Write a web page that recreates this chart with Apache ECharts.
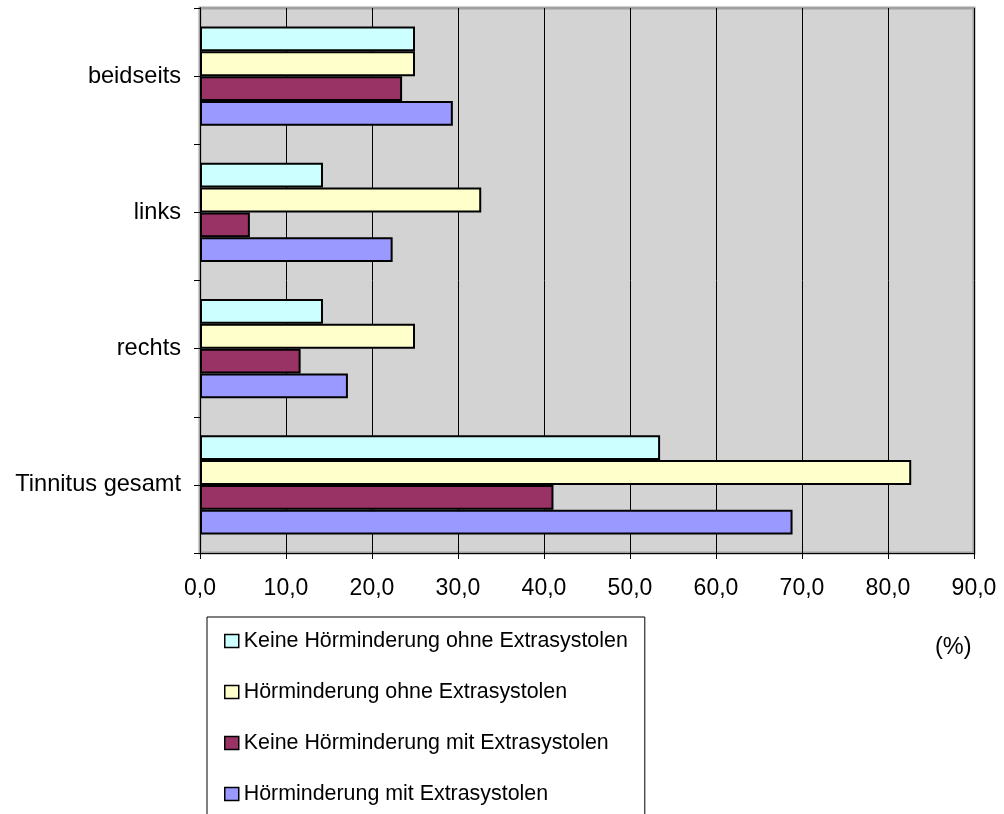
<!DOCTYPE html>
<html>
<head>
<meta charset="utf-8">
<script src="https://cdn.jsdelivr.net/npm/echarts@6/dist/echarts.min.js"></script>
<style>
  html, body { margin: 0; padding: 0; background: #fff; }
  #chart { width: 1004px; height: 814px; }
</style>
</head>
<body>
<div id="chart"></div>
<script>
// Kategorien von oben nach unten
var categories = ['beidseits', 'links', 'rechts', 'Tinnitus gesamt'];
var seriesNames = [
  'Keine Hörminderung ohne Extrasystolen',
  'Hörminderung ohne Extrasystolen',
  'Keine Hörminderung mit Extrasystolen',
  'Hörminderung mit Extrasystolen'
];
var keineOhne = [25.0, 14.3, 14.3, 53.5];
var hoerOhne = [25.0, 32.7, 25.0, 82.7];
var keineMit = [23.5, 5.8, 11.7, 41.1];
var hoerMit = [29.4, 22.4, 17.2, 68.9];
var xTicks = { min: 0, max: 90, interval: 10 };

var colors = ['#ccffff', '#ffffcc', '#993366', '#9999ff'];
var values = [keineOhne, hoerOhne, keineMit, hoerMit];
var font = 'Liberation Sans, Arial, sans-serif';

var chart = echarts.init(document.getElementById('chart'));

var series = [];
for (var i = 0; i < seriesNames.length; i++) {
  series.push({
    name: seriesNames[i],
    type: 'bar',
    yAxisIndex: 0,
    data: values[i],
    barGap: '0%',
    barCategoryGap: '27%',
    itemStyle: {
      color: colors[i],
      borderColor: '#000',
      borderWidth: 2
    }
  });
}

chart.setOption({
  animation: false,
  textStyle: { fontFamily: font },
  grid: {
    left: 200,
    right: 30,
    top: 8,
    bottom: 261,
    show: true,
    backgroundColor: '#d3d3d3',
    borderColor: '#a0a0a0',
    borderWidth: 3
  },
  legend: {
    orient: 'vertical',
    left: 207,
    top: 617,
    height: 260,
    padding: [13, 17, 30, 17],
    borderColor: '#000',
    borderWidth: 1,
    backgroundColor: '#fff',
    itemGap: 29,
    itemWidth: 14,
    itemHeight: 13,
    icon: 'rect',
    itemStyle: { borderWidth: 1.5, borderColor: '#000' },
    textStyle: { fontSize: 21.4, color: '#000', lineHeight: 22, fontFamily: font },
    data: seriesNames
  },
  xAxis: {
    type: 'value',
    min: xTicks.min,
    max: xTicks.max,
    interval: xTicks.interval,
    axisLine: { show: true, lineStyle: { color: '#000', width: 1 } },
    axisTick: { show: true, length: 6, lineStyle: { color: '#000' } },
    splitLine: { show: true, lineStyle: { color: '#000', width: 1 } },
    axisLabel: {
      fontSize: 23,
      color: '#000',
      margin: 24,
      formatter: function (v) { return v.toFixed(1).replace('.', ','); }
    }
  },
  yAxis: [{
    type: 'category',
    inverse: true,
    position: 'left',
    data: categories,
    axisLine: { show: true, lineStyle: { color: '#000', width: 1 } },
    axisTick: { show: false },
    axisLabel: { fontSize: 23.6, color: '#000', margin: 19 }
  }, {
    // nur für die Teilstriche an Grenzen und Mitten
    type: 'category',
    position: 'left',
    offset: 0,
    data: ['', '', '', '', '', '', '', ''],
    axisLine: { show: true, lineStyle: { color: '#000', width: 1 } },
    axisTick: { show: true, interval: 0, length: 6, lineStyle: { color: '#000' } },
    axisLabel: { show: false },
    splitLine: { show: false }
  }],
  graphic: [{
    type: 'text',
    left: 935,
    top: 636,
    style: { text: '(%)', fontSize: 23.5, fill: '#000', fontFamily: font }
  }],
  series: series
});
</script>
</body>
</html>
